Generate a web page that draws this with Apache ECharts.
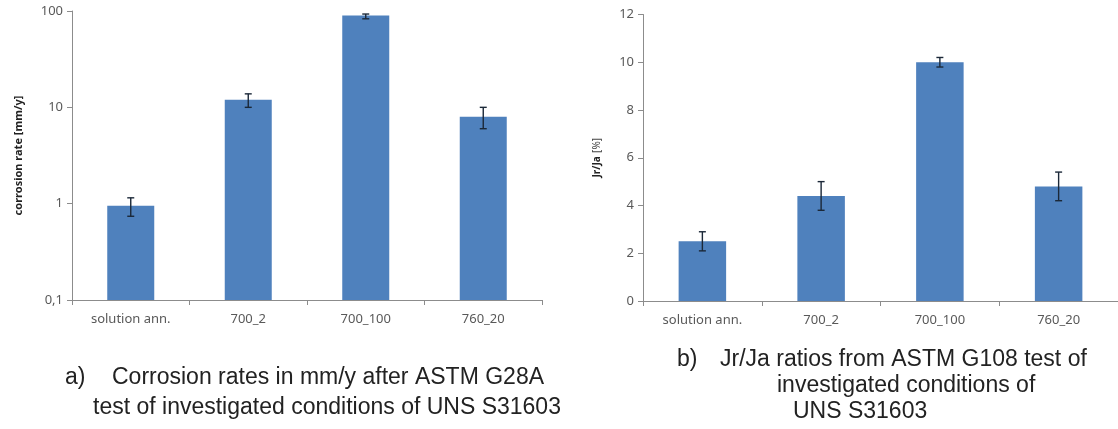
<!DOCTYPE html>
<html><head><meta charset="utf-8">
<script src="https://cdn.jsdelivr.net/npm/echarts@6/dist/echarts.min.js"></script>
<style>html,body{margin:0;padding:0;background:#fff}#c{width:1118px;height:429px}</style>
</head><body><div id="c"></div>
<script>
const categories = ['solution ann.', '700_2', '700_100', '760_20'];
const corrosionRate = [0.95, 12, 90, 8];
const corrosionLow = [0.74, 10, 83, 6];
const corrosionHigh = [1.15, 13.8, 93, 10];
const ratio = [2.5, 4.4, 10.0, 4.8];
const ratioLow = [2.1, 3.8, 9.8, 4.2];
const ratioHigh = [2.9, 5.0, 10.2, 5.4];
const captionA = ['a)', 'Corrosion rates in mm/y after ASTM G28A', 'test of investigated conditions of UNS S31603'];
const captionB = ['b)', 'Jr/Ja ratios from ASTM G108 test of', 'investigated conditions of', 'UNS S31603'];

const BAR = '#4F81BD';
const AXIS = '#8c8c8c';
const LABEL = '#595959';
const FONT = '"Noto Sans", sans-serif';
const CAP_FONT = '23px "Liberation Sans", Arial, sans-serif';

function errData(lo, hi) { return lo.map((v, i) => [i, v, hi[i]]); }
function errRender(params, api) {
  const p1 = api.coord([api.value(0), api.value(1)]);
  const p2 = api.coord([api.value(0), api.value(2)]);
  const hw = 3.5;
  const st = { stroke: '#1b2838', lineWidth: 1.4 };
  return { type: 'group', children: [
    { type: 'line', shape: { x1: p1[0], y1: p1[1], x2: p2[0], y2: p2[1] }, style: st },
    { type: 'line', shape: { x1: p1[0]-hw, y1: p1[1], x2: p1[0]+hw, y2: p1[1] }, style: st },
    { type: 'line', shape: { x1: p2[0]-hw, y1: p2[1], x2: p2[0]+hw, y2: p2[1] }, style: st }
  ]};
}
function logBarRender(params, api) {
  const top = api.coord([api.value(0), api.value(1)]);
  const base = api.coord([api.value(0), 0.1]);
  const w = api.size([1, 0])[0] * 0.4;
  return { type: 'rect', shape: { x: top[0] - w/2, y: top[1], width: w, height: base[1] - top[1] }, style: { fill: BAR } };
}

const xAxisCommon = {
  type: 'category', data: categories,
  axisLine: { lineStyle: { color: AXIS, width: 1 } },
  axisTick: { show: true, length: 5, lineStyle: { color: AXIS } },
  axisLabel: { color: LABEL, fontFamily: FONT, fontSize: 13, margin: 13 }
};

function cap(text, left, top) {
  return { type: 'text', left: left, top: top, style: { text: text, font: CAP_FONT, fill: '#222' } };
}

const chart = echarts.init(document.getElementById('c'));
chart.setOption({
  animation: false,
  backgroundColor: '#fff',
  grid: [
    { left: 72, top: 11, width: 470, height: 289 },
    { left: 643, top: 14.5, width: 475, height: 286.5 }
  ],
  xAxis: [
    Object.assign({ gridIndex: 0 }, xAxisCommon),
    Object.assign({ gridIndex: 1 }, xAxisCommon)
  ],
  yAxis: [
    { gridIndex: 0, type: 'log', logBase: 10, min: 0.1, max: 100,
      name: 'corrosion rate [mm/y]', nameLocation: 'middle', nameGap: 48,
      nameTextStyle: { fontFamily: FONT, fontSize: 11, fontWeight: 'bold', color: '#222' },
      axisLine: { show: true, lineStyle: { color: AXIS } },
      axisTick: { show: true, length: 5, lineStyle: { color: AXIS } },
      minorTick: { show: false },
      splitLine: { show: false },
      axisLabel: { color: LABEL, fontFamily: FONT, fontSize: 13, margin: 9,
        formatter: v => String(+Number(v).toPrecision(3)).replace('.', ',') } },
    { gridIndex: 1, type: 'value', min: 0, max: 12, interval: 2,
      name: '{b|Jr/Ja} {n|[%]}', nameLocation: 'middle', nameGap: 40,
      nameTextStyle: { rich: {
        b: { fontFamily: FONT, fontSize: 10, fontWeight: 'bold', color: '#222' },
        n: { fontFamily: FONT, fontSize: 10, color: '#444' } } },
      axisLine: { show: true, lineStyle: { color: AXIS } },
      axisTick: { show: true, length: 5, lineStyle: { color: AXIS } },
      splitLine: { show: false },
      axisLabel: { color: LABEL, fontFamily: FONT, fontSize: 13, margin: 9 } }
  ],
  series: [
    { type: 'custom', xAxisIndex: 0, yAxisIndex: 0, renderItem: logBarRender,
      data: corrosionRate.map((v, i) => [i, v]), z: 2 },
    { type: 'custom', xAxisIndex: 0, yAxisIndex: 0, renderItem: errRender,
      data: errData(corrosionLow, corrosionHigh), z: 3 },
    { type: 'bar', xAxisIndex: 1, yAxisIndex: 1, data: ratio, barWidth: '40%',
      itemStyle: { color: BAR }, z: 2 },
    { type: 'custom', xAxisIndex: 1, yAxisIndex: 1, renderItem: errRender,
      data: errData(ratioLow, ratioHigh), z: 3 }
  ],
  graphic: [
    cap(captionA[0], 65, 366),
    cap(captionA[1], 112, 366),
    cap(captionA[2], 93, 396),
    cap(captionB[0], 677, 348),
    cap(captionB[1], 720, 348),
    cap(captionB[2], 777, 374),
    cap(captionB[3], 793, 400)
  ]
});
</script></body></html>
